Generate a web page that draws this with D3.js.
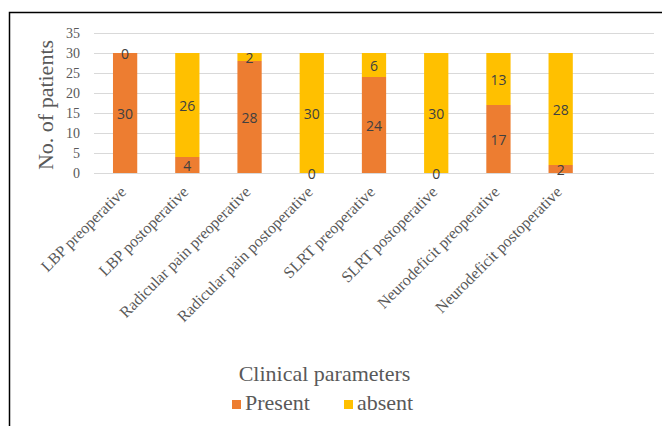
<!DOCTYPE html>
<html>
<head>
<meta charset="utf-8">
<script src="https://cdn.jsdelivr.net/npm/d3@7"></script>
<style>
  html, body { margin: 0; padding: 0; background: #fff; }
  svg { display: block; }
</style>
</head>
<body>
<svg id="chart" width="662" height="426"></svg>
<script>
const categories = [
  "LBP preoperative", "LBP postoperative",
  "Radicular pain preoperative", "Radicular pain postoperative",
  "SLRT preoperative", "SLRT postoperative",
  "Neurodeficit preoperative", "Neurodeficit postoperative"
];
const presentValues = [30, 4, 28, 0, 24, 0, 17, 2];
const absentValues  = [0, 26, 2, 30, 6, 30, 13, 28];
const yTicks = [0, 5, 10, 15, 20, 25, 30, 35];
const seriesNames = ["Present", "absent"];
const seriesColors = ["#ED7D31", "#FFC000"];

const svg = d3.select("#chart");

// outer frame (left and top edges visible)
svg.append("rect")
  .attr("x", 9.5).attr("y", 12.5)
  .attr("width", 700).attr("height", 500)
  .attr("fill", "none").attr("stroke", "#000").attr("stroke-width", 1.5);

const x = d3.scaleBand()
  .domain(categories.concat(["__blank__"]))
  .range([94, 654])
  .paddingInner(0.61)
  .paddingOuter(0.305);

const y = d3.scaleLinear().domain([0, 35]).range([173, 33]);

// gridlines
svg.append("g").selectAll("line")
  .data(yTicks)
  .join("line")
  .attr("x1", 94).attr("x2", 654)
  .attr("y1", d => Math.round(y(d)) + 0.5)
  .attr("y2", d => Math.round(y(d)) + 0.5)
  .attr("stroke", "#D9D9D9").attr("stroke-width", 1);

// y axis tick labels
const yAxis = d3.axisLeft(y).tickValues(yTicks).tickSize(0).tickPadding(0);
const gy = svg.append("g").attr("transform", "translate(80,0)").call(yAxis);
gy.select(".domain").remove();
gy.selectAll("text")
  .attr("font-family", "'Liberation Serif', 'Times New Roman', serif")
  .attr("font-size", 14)
  .attr("fill", "#595959");

// stacked data
const rows = categories.map((c, i) => ({ cat: c, Present: presentValues[i], absent: absentValues[i] }));
const stack = d3.stack().keys(seriesNames)(rows);

const layers = svg.append("g").selectAll("g")
  .data(stack)
  .join("g")
  .attr("fill", (d, i) => seriesColors[i]);

layers.selectAll("rect")
  .data(d => d)
  .join("rect")
  .attr("x", d => x(d.data.cat))
  .attr("width", x.bandwidth())
  .attr("y", d => y(d[1]))
  .attr("height", d => y(d[0]) - y(d[1]));

// data labels
const labelG = svg.append("g");
stack.forEach(layer => {
  labelG.selectAll(null)
    .data(layer)
    .join("text")
    .attr("x", d => x(d.data.cat) + x.bandwidth() / 2)
    .attr("y", d => (y(d[0]) + y(d[1])) / 2)
    .attr("text-anchor", "middle")
    .attr("dominant-baseline", "central")
    .attr("font-family", "'Open Sans', 'Liberation Sans', sans-serif")
    .attr("font-size", 14)
    .attr("fill", "#404040")
    .text(d => d[1] - d[0]);
});

// x axis category labels
const gx = svg.append("g");
gx.selectAll("text")
  .data(categories)
  .join("text")
  .attr("transform", d => `translate(${x(d) + x.bandwidth() / 2 + 2},193) rotate(-45)`)
  .attr("text-anchor", "end")
  .attr("font-family", "'Liberation Serif', 'Times New Roman', serif")
  .attr("font-size", 16)
  .attr("fill", "#595959")
  .text(d => d);

// y axis title
svg.append("text")
  .attr("transform", "translate(53,105) rotate(-90)")
  .attr("text-anchor", "middle")
  .attr("font-family", "'Liberation Serif', 'Times New Roman', serif")
  .attr("font-size", 22)
  .attr("fill", "#595959")
  .text("No. of patients");

// x axis title
svg.append("text")
  .attr("x", 324.5).attr("y", 381)
  .attr("text-anchor", "middle")
  .attr("font-family", "'Liberation Serif', 'Times New Roman', serif")
  .attr("font-size", 22)
  .attr("fill", "#595959")
  .text("Clinical parameters");

// legend
const legendX = [232, 344];
const legend = svg.append("g");
seriesNames.forEach((name, i) => {
  legend.append("rect")
    .attr("x", legendX[i]).attr("y", 400)
    .attr("width", 9).attr("height", 9)
    .attr("fill", seriesColors[i]);
  legend.append("text")
    .attr("x", legendX[i] + 13).attr("y", 410)
    .attr("font-family", "'Liberation Serif', 'Times New Roman', serif")
    .attr("font-size", 22)
    .attr("fill", "#595959")
    .text(name);
});
</script>
</body>
</html>
